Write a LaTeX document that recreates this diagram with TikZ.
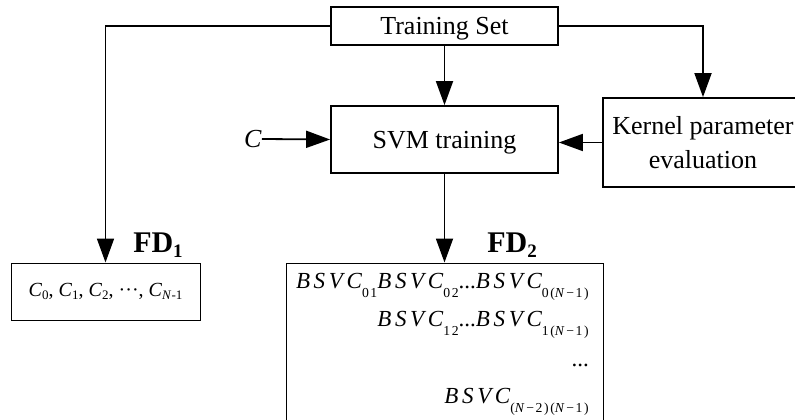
\documentclass[tikz,border=0pt]{standalone}
\usepackage{fontspec}
\setmainfont{Liberation Serif}
\newfontfamily\bsfont[LetterSpace=16]{Liberation Serif}
\newfontfamily\subfont[LetterSpace=12]{Liberation Serif}
\usetikzlibrary{arrows.meta}
\newcommand{\sbs}[1]{\raisebox{-0.4ex}{\fontsize{13}{13}\selectfont #1}}
\newcommand{\bsub}[1]{\raisebox{-9pt}{\subfont\fontsize{13.7}{13.7}\selectfont #1}}
\newcommand{\bsvc}[1]{{\bsfont\itshape BSVC}\bsub{#1}}
\begin{document}
\begin{tikzpicture}[x=1pt, y=-1pt,
  box/.style={draw, line width=1.8pt, inner sep=0pt, text depth=0pt, align=center, font=\fontsize{26}{34}\selectfont},
  fdbox/.style={draw, line width=1pt, inner sep=0pt},
  conn/.style={line width=1.8pt},
  arr/.style={conn, -{Triangle[length=24pt,width=17pt]}},
  fdlabel/.style={inner sep=0pt, font=\fontsize{30}{30}\selectfont\bfseries},
  entry/.style={inner sep=0pt, anchor=base east, font=\fontsize{23}{23}\selectfont}]
  \clip (0,0) rectangle (795,420);
  \node[box, minimum width=227pt, minimum height=38pt] (ts) at (444.5,26) {Training Set};
  \node[box, minimum width=227pt, minimum height=67pt] (svm) at (444.5,139.5) {SVM training};
  \node[box, minimum width=200pt, minimum height=89pt] (kp) at (703,142.5) {Kernel parameter\\evaluation};
  \node[inner sep=0pt, font=\fontsize{26}{26}\selectfont] (cin) at (253,139) {\textit{C}};
  % feature data
  \node[fdbox, minimum width=189pt, minimum height=57pt] (fd1) at (105.5,291.5) {};
  \node[inner sep=0pt, font=\fontsize{20}{20}\selectfont] (fd1txt) at (fd1.center)
    {\textit{C}\sbs{0}, \textit{C}\sbs{1}, \textit{C}\sbs{2}, ···, \textit{C}\sbs{\textit{N}-1}};
  \node[fdbox, minimum width=317pt, minimum height=182pt] (fd2) at (444.5,354) {};
  \node[entry] (e1) at (589,288) {\bsvc{01}\bsvc{02}...\bsvc{0(\textit{N}−1)}};
  \node[entry] (e2) at (589,326) {\bsvc{12}...\bsvc{1(\textit{N}−1)}};
  \node[entry] (e3) at (589,366) {...};
  \node[entry] (e4) at (589,403) {\bsvc{(\textit{N}−2)(\textit{N}−1)}};
  \node[fdlabel] (fd1lab) at (158,245) {FD\sbs{\fontsize{19}{19}\selectfont\bfseries 1}};
  \node[fdlabel] (fd2lab) at (512,245) {FD\sbs{\fontsize{19}{19}\selectfont\bfseries 2}};
  % connectors
  \draw[arr] (ts.west) -| (fd1.north);
  \draw[arr] (ts.east) -| (kp.north);
  \draw[arr] (ts.south) -- (svm.north);
  \draw[arr] (cin.east) -- (svm.west);
  \draw[arr] (kp.west) -- (kp.west -| svm.east);
  \draw[arr] (svm.south) -- (fd2.north);
\end{tikzpicture}
\end{document}
